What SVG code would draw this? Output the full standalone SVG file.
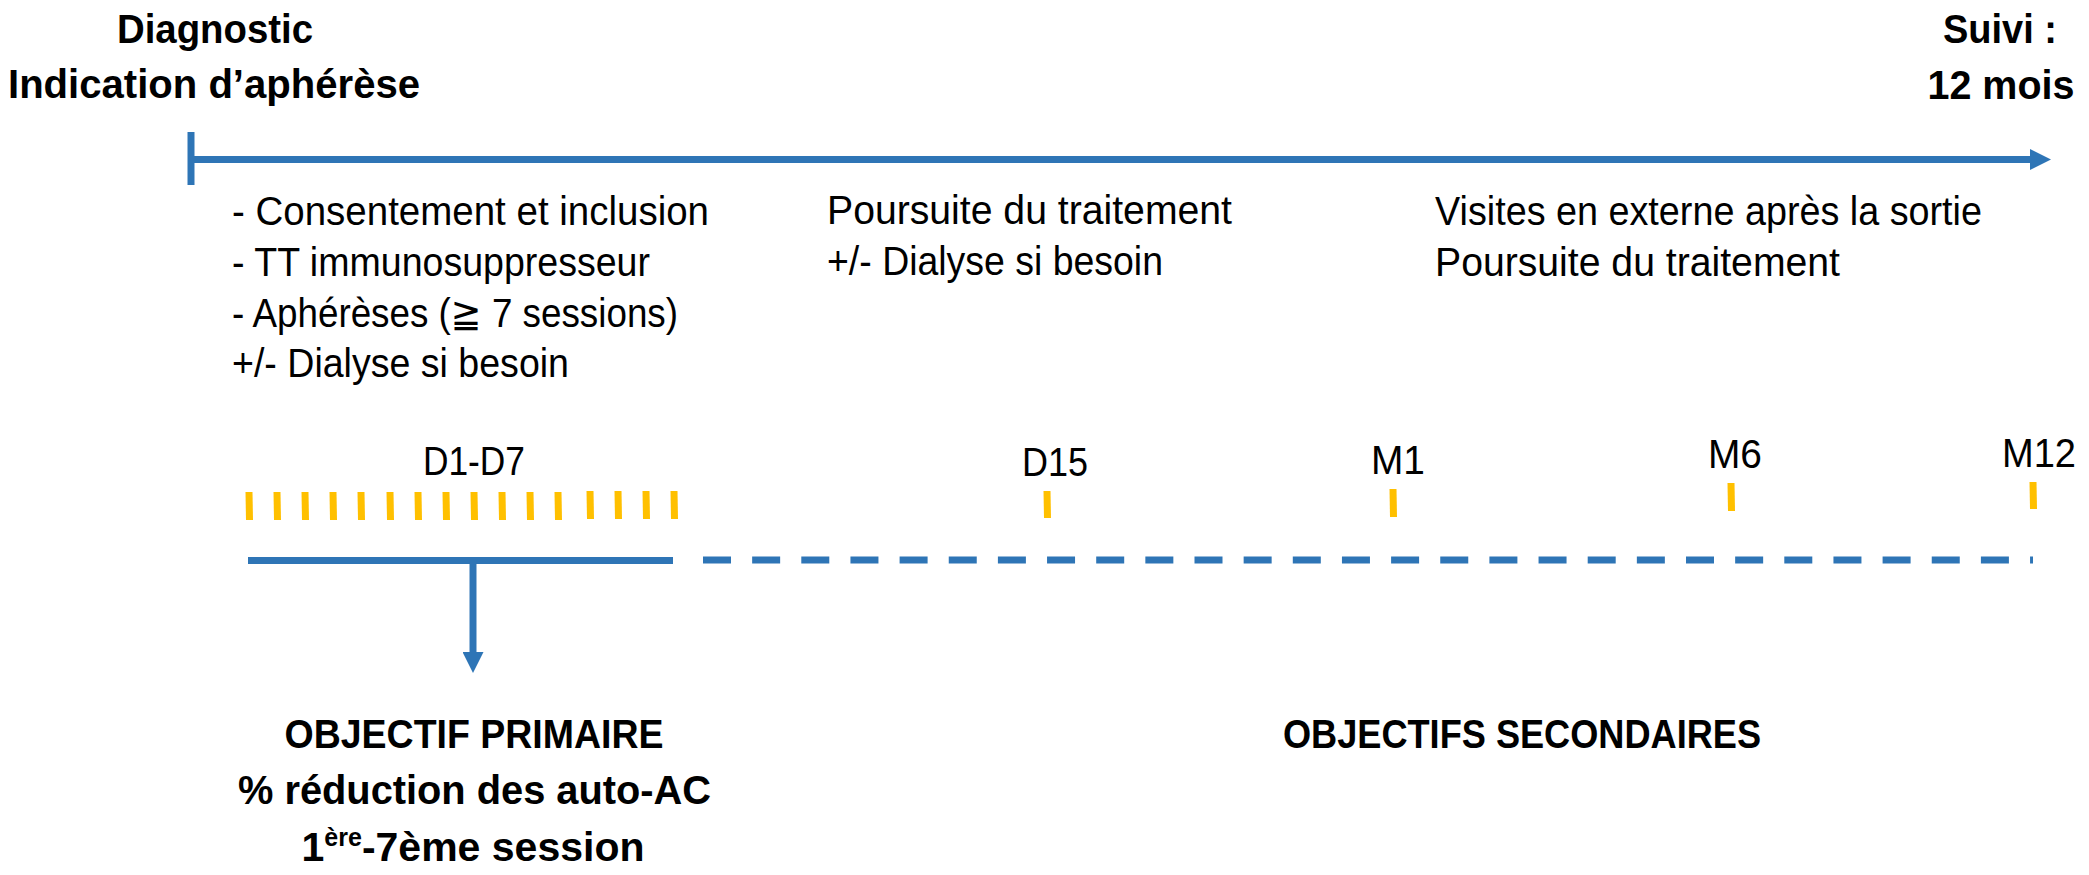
<svg xmlns="http://www.w3.org/2000/svg" width="2089" height="875" viewBox="0 0 2089 875">
  <style>
    .bold { font-family: "Liberation Sans", Arial, sans-serif; font-weight: bold; font-size: 41px; fill: #000; }
    .reg { font-family: "Liberation Sans", Arial, "DejaVu Sans", sans-serif; font-size: 40px; fill: #000; }
    .blue { stroke: #2E75B6; stroke-width: 7; fill: none; }
    .tick { stroke: #FFC000; stroke-width: 7; fill: none; }
  </style>
  <defs>
    <marker id="arrow" markerUnits="userSpaceOnUse" markerWidth="21" markerHeight="21" refX="0" refY="10.5" orient="auto" viewBox="0 0 21 21">
      <path d="M0,0 L21,10.5 L0,21 Z" fill="#2E75B6"/>
    </marker>
  </defs>
  <rect width="2089" height="875" fill="#fff"/>

  <g id="connectors">
    <line class="blue" x1="191" y1="132" x2="191" y2="185"/>
    <line class="blue" x1="191" y1="159.5" x2="2030" y2="159.5" marker-end="url(#arrow)"/>
    <line class="blue" x1="248" y1="560.5" x2="673" y2="560.5"/>
    <line class="blue" x1="703" y1="560" x2="2033" y2="560" stroke-dasharray="28 21.15"/>
    <line class="blue" x1="473" y1="560" x2="473" y2="652" marker-end="url(#arrow)"/>
  </g>

  <g id="start-label">
    <text class="bold" x="215" y="43" text-anchor="middle" textLength="196" lengthAdjust="spacingAndGlyphs">Diagnostic</text>
    <text class="bold" x="214" y="98" text-anchor="middle" textLength="412" lengthAdjust="spacingAndGlyphs">Indication d’aphérèse</text>
  </g>
  <g id="end-label">
    <text class="bold" x="2000" y="43" text-anchor="middle" textLength="114" lengthAdjust="spacingAndGlyphs">Suivi :</text>
    <text class="bold" x="2001" y="99" text-anchor="middle" textLength="147" lengthAdjust="spacingAndGlyphs">12 mois</text>
  </g>

  <g id="phase1-text">
    <text class="reg" x="232" y="225" textLength="477" lengthAdjust="spacingAndGlyphs">- Consentement et inclusion</text>
    <text class="reg" x="232" y="276" textLength="418" lengthAdjust="spacingAndGlyphs">- TT immunosuppresseur</text>
    <text class="reg" x="232" y="327" textLength="446" lengthAdjust="spacingAndGlyphs">- Aphérèses (≧ 7 sessions)</text>
    <text class="reg" x="232" y="377" textLength="337" lengthAdjust="spacingAndGlyphs">+/- Dialyse si besoin</text>
  </g>
  <g id="phase2-text">
    <text class="reg" x="827" y="224" textLength="405" lengthAdjust="spacingAndGlyphs">Poursuite du traitement</text>
    <text class="reg" x="827" y="275" textLength="336" lengthAdjust="spacingAndGlyphs">+/- Dialyse si besoin</text>
  </g>
  <g id="phase3-text">
    <text class="reg" x="1435" y="225" textLength="547" lengthAdjust="spacingAndGlyphs">Visites en externe après la sortie</text>
    <text class="reg" x="1435" y="276" textLength="405" lengthAdjust="spacingAndGlyphs">Poursuite du traitement</text>
  </g>

  <g id="d1-d7">
    <text class="reg" x="474" y="475" text-anchor="middle" textLength="102" lengthAdjust="spacingAndGlyphs">D1-D7</text>
    <line class="tick" x1="249" y1="492" x2="249.5" y2="520"/>
    <line class="tick" x1="277" y1="492" x2="277.5" y2="520"/>
    <line class="tick" x1="305" y1="492" x2="305.5" y2="520"/>
    <line class="tick" x1="333" y1="492" x2="333.5" y2="520"/>
    <line class="tick" x1="361" y1="492" x2="361.5" y2="520"/>
    <line class="tick" x1="390" y1="492" x2="390.5" y2="520"/>
    <line class="tick" x1="418" y1="492" x2="418.5" y2="520"/>
    <line class="tick" x1="446" y1="492" x2="446.5" y2="520"/>
    <line class="tick" x1="474" y1="492" x2="474.5" y2="520"/>
    <line class="tick" x1="502" y1="492" x2="502.5" y2="520"/>
    <line class="tick" x1="530" y1="492" x2="530.5" y2="520"/>
    <line class="tick" x1="558" y1="492" x2="558.5" y2="520"/>
    <line class="tick" x1="590" y1="491" x2="590.5" y2="519"/>
    <line class="tick" x1="618" y1="491" x2="618.5" y2="519"/>
    <line class="tick" x1="646" y1="491" x2="646.5" y2="519"/>
    <line class="tick" x1="674" y1="491" x2="674.5" y2="519"/>
  </g>
  <g id="d15">
    <text class="reg" x="1055" y="476" text-anchor="middle" textLength="66" lengthAdjust="spacingAndGlyphs">D15</text>
    <line class="tick" x1="1047" y1="491" x2="1047.5" y2="518"/>
  </g>
  <g id="m1">
    <text class="reg" x="1398" y="474" text-anchor="middle" textLength="54" lengthAdjust="spacingAndGlyphs">M1</text>
    <line class="tick" x1="1393" y1="489" x2="1393.5" y2="517"/>
  </g>
  <g id="m6">
    <text class="reg" x="1735" y="468" text-anchor="middle" textLength="54" lengthAdjust="spacingAndGlyphs">M6</text>
    <line class="tick" x1="1731" y1="483" x2="1731.5" y2="511"/>
  </g>
  <g id="m12">
    <text class="reg" x="2039" y="467" text-anchor="middle" textLength="74" lengthAdjust="spacingAndGlyphs">M12</text>
    <line class="tick" x1="2033" y1="482" x2="2033.5" y2="509"/>
  </g>

  <g id="primary-objective">
    <text class="bold" x="474" y="748" text-anchor="middle" textLength="379" lengthAdjust="spacingAndGlyphs">OBJECTIF PRIMAIRE</text>
    <text class="bold" x="474.5" y="804" text-anchor="middle" textLength="473" lengthAdjust="spacingAndGlyphs">% réduction des auto-AC</text>
    <text class="bold" x="473" y="861" text-anchor="middle">1<tspan font-size="25" dy="-15">ère</tspan><tspan dy="15">-7ème session</tspan></text>
  </g>
  <g id="secondary-objectives">
    <text class="bold" x="1522" y="748" text-anchor="middle" textLength="478" lengthAdjust="spacingAndGlyphs">OBJECTIFS SECONDAIRES</text>
  </g>
</svg>
